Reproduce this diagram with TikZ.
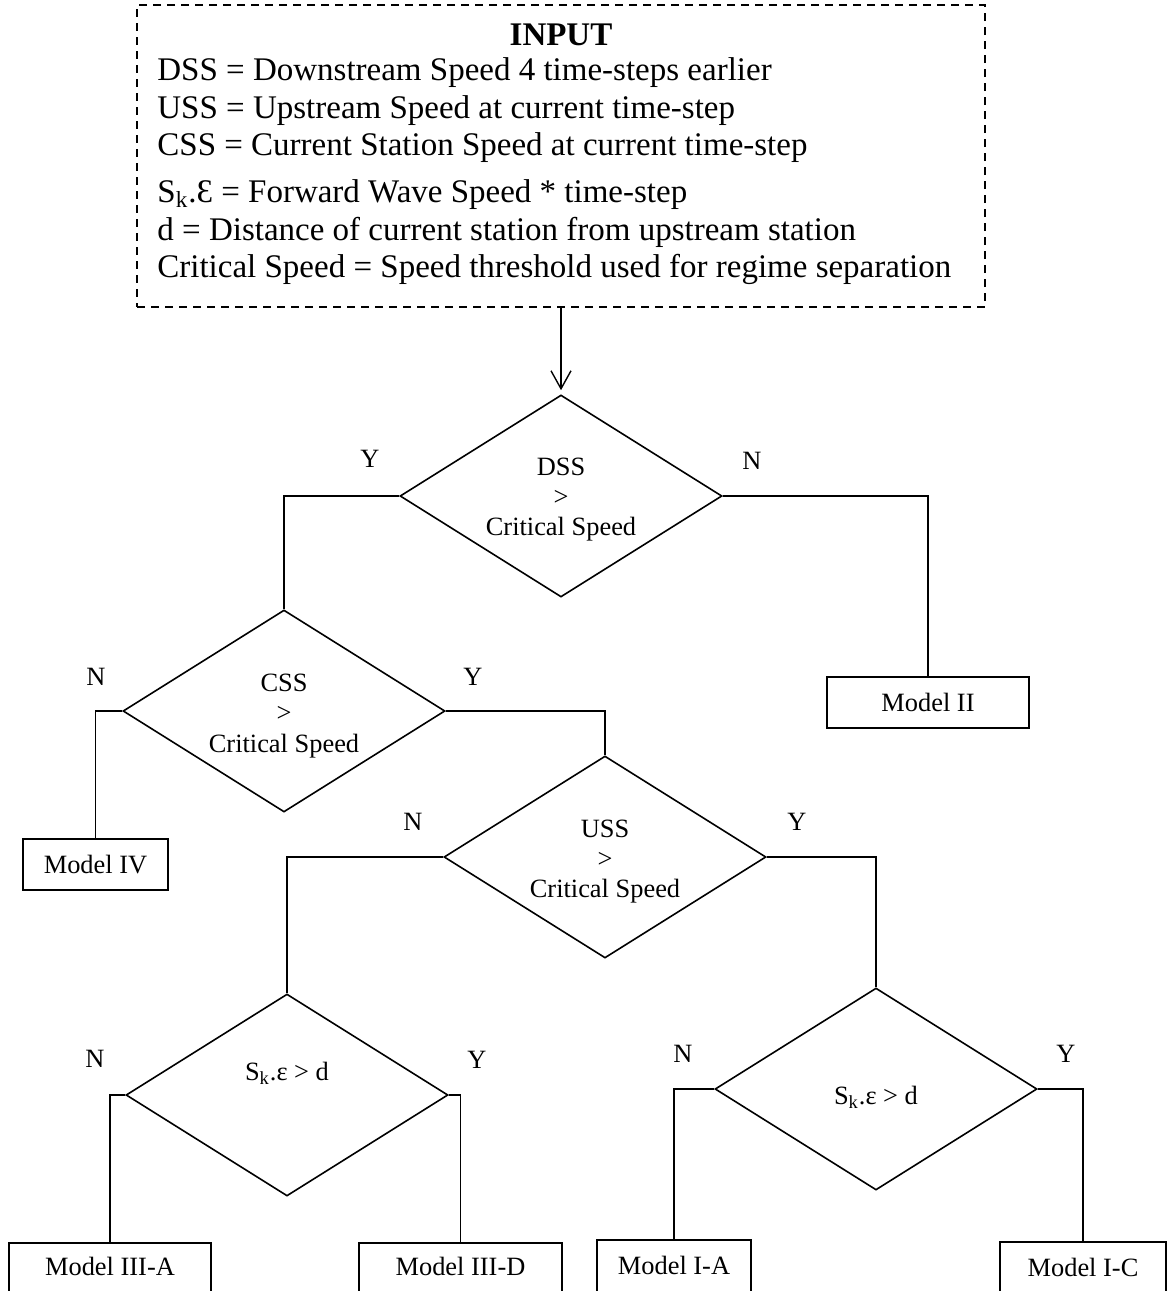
\documentclass[tikz,border=0pt]{standalone}
\usepackage{fontspec}
\setmainfont{Liberation Serif}
\usetikzlibrary{shapes.geometric,arrows.meta}
\begin{document}
\begin{tikzpicture}[x=0.5pt,y=-0.5pt,
  lw/.style={line width=0.8pt},
  dec/.style={draw, lw, shape=diamond, minimum width=161pt, minimum height=101pt, inner sep=0pt},
  mbox/.style={draw, lw, rectangle, inner sep=0pt, minimum height=25.5pt, font=\fontsize{13.2}{15}\selectfont},
  obox/.style={draw, lw, rectangle, inner sep=0pt, anchor=north, minimum height=40pt},
  txt/.style={font=\fontsize{13.2}{15}\selectfont, inner sep=0pt},
  itxt/.style={font=\fontsize{16.5}{19}\selectfont, inner sep=0pt, anchor=base west},
  link/.style={line width=0.9pt},
  thinlink/.style={line width=0.6pt}
]
\clip (0,0) rectangle (1171,1291);

% INPUT box
\node[draw, dashed, dash pattern=on 4pt off 3pt, line width=0.85pt, minimum width=424pt, minimum height=151pt, inner sep=0pt] (input) at (561,156) {};
\node[font=\fontsize{16.5}{19}\selectfont\bfseries, inner sep=0pt, anchor=base] (title) at (561,45) {INPUT};
\node[itxt] (l1) at (157,80) {DSS = Downstream Speed 4 time-steps earlier};
\node[itxt] (l2) at (157,118) {USS = Upstream Speed at current time-step};
\node[itxt] (l3) at (157,155) {CSS = Current Station Speed at current time-step};
\node[itxt] (l4) at (157,202) {S\textsubscript{k}.Ɛ = Forward Wave Speed * time-step};
\node[itxt] (l5) at (157,240) {d = Distance of current station from upstream station};
\node[itxt] (l6) at (157,277) {Critical Speed = Speed threshold used for regime separation};

% decisions
\node[dec] (d1) at (561,496) {};
\node[dec] (d2) at (284,711) {};
\node[dec] (d3) at (605,857) {};
\node[dec] (d4) at (287,1095) {};
\node[dec] (d5) at (876,1089) {};

% decision texts
\node[txt, anchor=base] (d1a) at (561,475) {DSS};
\node[txt, anchor=base] (d1b) at (561,505) {>};
\node[txt, anchor=base] (d1c) at (561,535) {Critical Speed};
\node[txt, anchor=base] (d2a) at (284,691) {CSS};
\node[txt, anchor=base] (d2b) at (284,721) {>};
\node[txt, anchor=base] (d2c) at (284,752) {Critical Speed};
\node[txt, anchor=base] (d3a) at (605,837) {USS};
\node[txt, anchor=base] (d3b) at (605,867) {>};
\node[txt, anchor=base] (d3c) at (605,897) {Critical Speed};
\node[txt, anchor=base] (d4a) at (287,1080) {S\textsubscript{k}.ε > d};
\node[txt, anchor=base] (d5a) at (876,1104) {S\textsubscript{k}.ε > d};

% model boxes
\node[mbox, minimum width=101pt] (m2) at (928,702.5) {Model II};
\node[mbox, minimum width=72.5pt] (m4) at (95.5,864.5) {Model IV};
\node[obox, minimum width=101pt] (m3a) at (110,1242) {};
\node[obox, minimum width=101.5pt] (m3d) at (460.5,1242) {};
\node[obox, minimum width=77pt] (m1a) at (674,1239) {};
\node[obox, minimum width=83pt] (m1c) at (1083,1241) {};
\node[txt, anchor=base] (t3a) at (110,1275) {Model III-A};
\node[txt, anchor=base] (t3d) at (460.5,1275) {Model III-D};
\node[txt, anchor=base] (t1a) at (674,1274) {Model I-A};
\node[txt, anchor=base] (t1c) at (1083,1276) {Model I-C};

% Y / N labels
\node[txt] (y1) at (370,459) {Y};
\node[txt] (n1) at (752,461) {N};
\node[txt] (n2) at (96,677) {N};
\node[txt] (y2) at (473,677) {Y};
\node[txt] (n3) at (413,822) {N};
\node[txt] (y3) at (797,822) {Y};
\node[txt] (n4) at (95,1059) {N};
\node[txt] (y4) at (477,1060) {Y};
\node[txt] (n5) at (683,1054) {N};
\node[txt] (y5) at (1066,1054) {Y};

% joint points where the line weight changes
\coordinate (j1) at (341,496);
\coordinate (j2) at (505,711);
\coordinate (j3) at (387,857);

% connectors
\draw[lw, shorten >=2pt, -{Straight Barb[length=9pt,width=10pt,line width=0.7pt]}] (input.south) -- (d1.north);
\draw[thinlink] (d1.west) -- (j1);
\draw[link] (j1) -| (d2.north);
\draw[link] (d1.east) -| (m2.north);
\draw[link] (d2.west) -| (m4.north);
\draw[thinlink] (d2.east) -- (j2);
\draw[link] (j2) -| (d3.north);
\draw[thinlink] (d3.west) -- (j3);
\draw[link] (j3) -| (d4.north);
\draw[link] (d3.east) -| (d5.north);
\draw[link] (d4.west) -| (m3a.north);
\draw[link] (d4.east) -| (m3d.north);
\draw[link] (d5.west) -| (m1a.north);
\draw[link] (d5.east) -| (m1c.north);
\end{tikzpicture}
\end{document}
